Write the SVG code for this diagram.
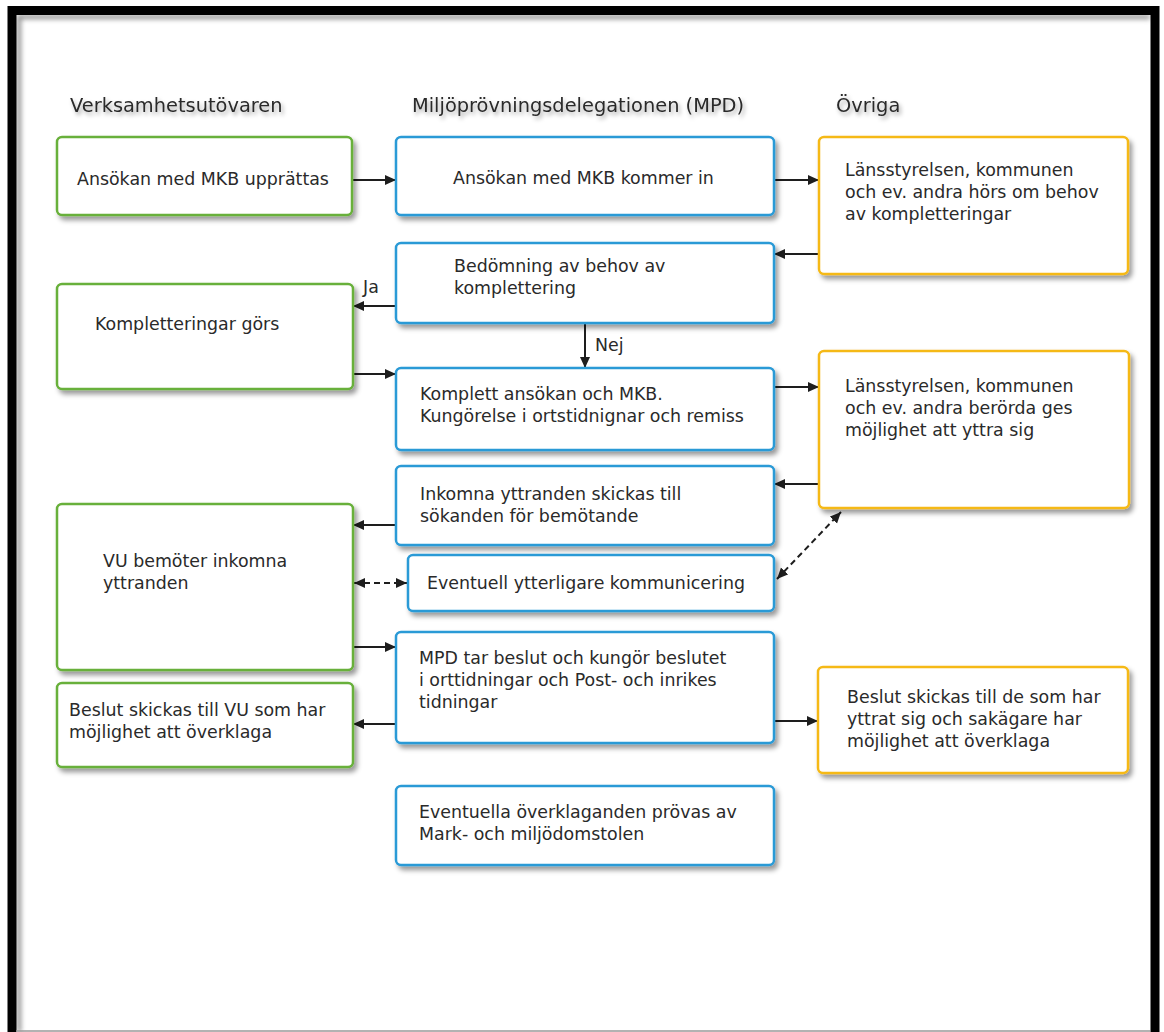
<svg xmlns="http://www.w3.org/2000/svg" width="1164" height="1032" viewBox="0 0 1164 1032">
<style>
.box{fill:#fff;stroke-width:2.5;filter:url(#sh)}
.g{stroke:#68b03a}
.b{stroke:#2a9ad6}
.y{stroke:#f5b919}
.t{font-family:"DejaVu Sans",Verdana,sans-serif;font-size:17.4px;fill:#2a2a2a}
.h{font-family:"DejaVu Sans",Verdana,sans-serif;font-size:19.4px;fill:#2a2a2a;filter:url(#tsh)}
.c{stroke:#1e1e1e;stroke-width:2;fill:none;marker-end:url(#ah)}
.d{stroke:#1e1e1e;stroke-width:2;fill:none;stroke-dasharray:6,4;marker-end:url(#ah);marker-start:url(#ah)}
</style>
<defs>
<filter id="sh" x="-10%" y="-10%" width="125%" height="135%">
<feDropShadow dx="3" dy="4" stdDeviation="2.5" flood-color="#000" flood-opacity="0.4"/>
</filter>
<filter id="tsh" x="-10%" y="-30%" width="125%" height="170%">
<feDropShadow dx="2" dy="3" stdDeviation="2" flood-color="#000" flood-opacity="0.35"/>
</filter>
<filter id="fb" x="-50%" y="-50%" width="200%" height="200%"><feGaussianBlur stdDeviation="2.5"/></filter>
<marker id="ah" markerUnits="userSpaceOnUse" markerWidth="12" markerHeight="11" refX="11" refY="5" orient="auto-start-reverse">
<path d="M0,0 L11,5 L0,10 z" fill="#1e1e1e"/>
</marker>
</defs>
<rect width="1164" height="1032" fill="#fff"/>
<g id="frame">
<path d="M19,1032 V17 H1150" stroke="#888" stroke-width="4" fill="none" filter="url(#fb)"/>
<path d="M12,1040 V10.5 H1155 V1040" stroke="#000" stroke-width="9" fill="none"/>
<line x1="16" y1="1031" x2="1150" y2="1031" stroke="#999" stroke-width="1.5"/>
</g>
<g id="headers">
<text class="h" x="70" y="112">Verksamhetsutövaren</text>
<text class="h" x="412" y="112">Miljöprövningsdelegationen (MPD)</text>
<text class="h" x="836" y="112">Övriga</text>
</g>
<g id="connectors">
<line class="c" x1="352" y1="180" x2="396" y2="180"/>
<line class="c" x1="774" y1="180" x2="819" y2="180"/>
<line class="c" x1="819" y1="254" x2="774" y2="254"/>
<line class="c" x1="396" y1="306" x2="353" y2="306"/>
<line class="c" x1="585" y1="323" x2="585" y2="368"/>
<line class="c" x1="353" y1="374" x2="396" y2="374"/>
<line class="c" x1="774" y1="387" x2="819" y2="387"/>
<line class="c" x1="819" y1="484" x2="774" y2="484"/>
<line class="c" x1="396" y1="525" x2="353" y2="525"/>
<line class="d" x1="354" y1="583" x2="407" y2="583"/>
<line class="d" x1="777" y1="579" x2="841" y2="512"/>
<line class="c" x1="353" y1="647" x2="396" y2="647"/>
<line class="c" x1="396" y1="724" x2="353" y2="724"/>
<line class="c" x1="774" y1="721" x2="818" y2="721"/>
<text class="t" x="363" y="293">Ja</text>
<text class="t" x="595" y="351">Nej</text>
</g>
<g id="n1"><rect class="box g" x="57" y="137" width="295" height="78" rx="5"/>
<text class="t" x="77" y="185">Ansökan med MKB upprättas</text></g>
<g id="n2"><rect class="box b" x="396" y="137" width="378" height="78" rx="5"/>
<text class="t" x="453" y="184">Ansökan med MKB kommer in</text></g>
<g id="n3"><rect class="box y" x="819" y="137" width="309" height="137" rx="5"/>
<text class="t" x="845" y="176">Länsstyrelsen, kommunen</text>
<text class="t" x="845" y="198">och ev. andra hörs om behov</text>
<text class="t" x="845" y="220">av kompletteringar</text></g>
<g id="n4"><rect class="box b" x="396" y="243" width="378" height="80" rx="5"/>
<text class="t" x="454" y="272">Bedömning av behov av</text>
<text class="t" x="454" y="294">komplettering</text></g>
<g id="n5"><rect class="box g" x="57" y="284" width="296" height="105" rx="5"/>
<text class="t" x="95" y="330">Kompletteringar görs</text></g>
<g id="n6"><rect class="box b" x="396" y="368" width="378" height="82" rx="5"/>
<text class="t" x="420" y="400">Komplett ansökan och MKB.</text>
<text class="t" x="420" y="422">Kungörelse i ortstidnignar och remiss</text></g>
<g id="n7"><rect class="box y" x="819" y="351" width="310" height="157" rx="5"/>
<text class="t" x="845" y="392">Länsstyrelsen, kommunen</text>
<text class="t" x="845" y="414">och ev. andra berörda ges</text>
<text class="t" x="845" y="436">möjlighet att yttra sig</text></g>
<g id="n8"><rect class="box b" x="396" y="466" width="378" height="79" rx="5"/>
<text class="t" x="420" y="500">Inkomna yttranden skickas till</text>
<text class="t" x="420" y="522">sökanden för bemötande</text></g>
<g id="n9"><rect class="box g" x="57" y="504" width="296" height="166" rx="5"/>
<text class="t" x="103" y="567">VU bemöter inkomna</text>
<text class="t" x="103" y="589">yttranden</text></g>
<g id="n10"><rect class="box b" x="408" y="555" width="366" height="56" rx="5"/>
<text class="t" x="427" y="589">Eventuell ytterligare kommunicering</text></g>
<g id="n11"><rect class="box b" x="396" y="632" width="378" height="111" rx="5"/>
<text class="t" x="419" y="664">MPD tar beslut och kungör beslutet</text>
<text class="t" x="419" y="686">i orttidningar och Post- och inrikes</text>
<text class="t" x="419" y="708">tidningar</text></g>
<g id="n12"><rect class="box g" x="57" y="683" width="296" height="84" rx="5"/>
<text class="t" x="69" y="716">Beslut skickas till VU som har</text>
<text class="t" x="69" y="738">möjlighet att överklaga</text></g>
<g id="n13"><rect class="box y" x="818" y="667" width="310" height="106" rx="5"/>
<text class="t" x="847" y="703">Beslut skickas till de som har</text>
<text class="t" x="847" y="725">yttrat sig och sakägare har</text>
<text class="t" x="847" y="747">möjlighet att överklaga</text></g>
<g id="n14"><rect class="box b" x="396" y="786" width="378" height="79" rx="5"/>
<text class="t" x="419" y="818">Eventuella överklaganden prövas av</text>
<text class="t" x="419" y="840">Mark- och miljödomstolen</text></g>
</svg>
